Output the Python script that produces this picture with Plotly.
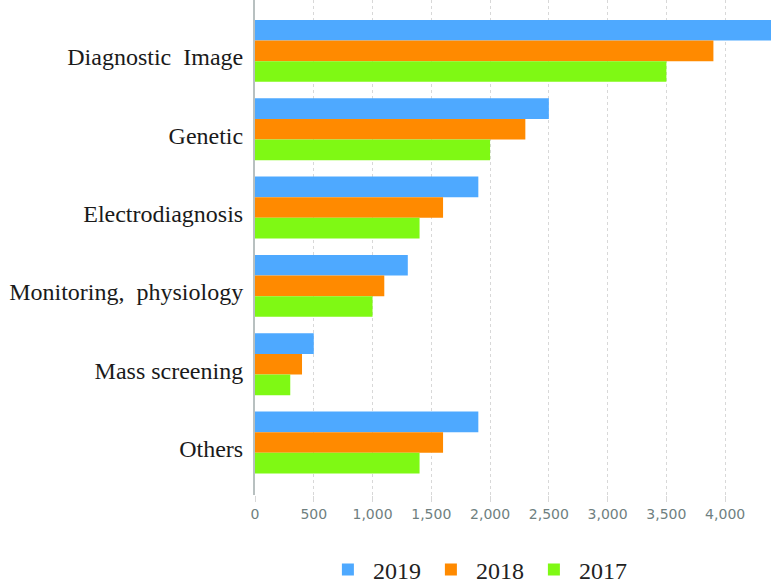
import plotly.graph_objs as go

categories = ["Diagnostic  Image", "Genetic", "Electrodiagnosis",
              "Monitoring,  physiology", "Mass screening", "Others"]
vals_2019 = [4400, 2500, 1900, 1300, 500, 1900]
vals_2018 = [3900, 2300, 1600, 1100, 400, 1600]
vals_2017 = [3500, 2000, 1400, 1000, 300, 1400]
x_ticks = [0, 500, 1000, 1500, 2000, 2500, 3000, 3500, 4000]
x_tick_labels = ["0", "500", "1,000", "1,500", "2,000", "2,500", "3,000", "3,500", "4,000"]

fig = go.Figure()
fig.add_trace(go.Bar(y=categories, x=vals_2019, name="2019", orientation="h",
                     marker=dict(color="#4ea9ff", line=dict(width=0))))
fig.add_trace(go.Bar(y=categories, x=vals_2018, name="2018", orientation="h",
                     marker=dict(color="#ff8a00", line=dict(width=0))))
fig.add_trace(go.Bar(y=categories, x=vals_2017, name="2017", orientation="h",
                     marker=dict(color="#7ff914", line=dict(width=0))))

fig.update_layout(
    width=773, height=585,
    margin=dict(l=255, r=2, t=0, b=90, autoexpand=False),
    plot_bgcolor="white", paper_bgcolor="white",
    barmode="group", bargap=0.21, bargroupgap=0,
    legend=dict(orientation="h", x=0.431, xanchor="center", y=-0.106, yanchor="top",
                font=dict(family="Liberation Serif", size=24, color="#222"),
                itemwidth=40, traceorder="normal"),
    xaxis=dict(range=[0, 4390], tickvals=x_ticks, ticktext=x_tick_labels,
               showgrid=True, gridcolor="#d8d8d8", griddash="dot", gridwidth=1,
               zeroline=False, showline=False, automargin=False,
               ticks="outside", ticklen=6, tickcolor="#d8d8d8",
               tickfont=dict(family="DejaVu Sans", size=14, color="#6f7f7f")),
    yaxis=dict(range=[5.67, -0.65], showgrid=False, zeroline=False,
               showline=True, linecolor="#b8c0c0", linewidth=2,
               ticks="", ticklabelstandoff=5, ticklabelshift=-6, automargin=False,
               tickfont=dict(family="Liberation Serif", size=24, color="#1a1a1a")),
)

# drop the default page margin so the figure sits at the window's corner
fig.write_html("out.html", config={"displayModeBar": False},
               post_script="document.body.style.margin='0';")
